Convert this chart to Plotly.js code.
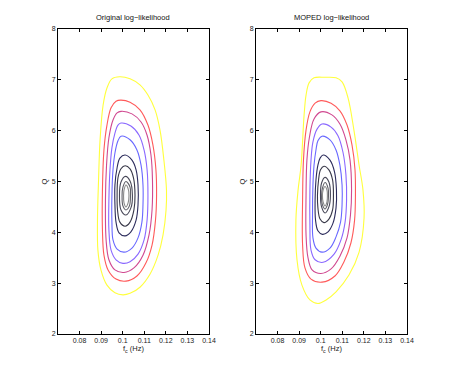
<!DOCTYPE html>
<html>
<head>
<meta charset="utf-8">
<script src="https://cdn.plot.ly/plotly-3.0.1.min.js"></script>
<style>
  body { margin: 0; background: #fff; }
  #chart { width: 450px; height: 377px; }
</style>
</head>
<body>
<div id="chart"></div>
<script>
// contour rings, outermost first (f_c in Hz, Q)
const origF = [
    [0.0986,0.1034,0.1080,0.1117,0.1150,0.1173,0.1191,0.1203,0.1201,0.1187,0.1164,0.1127,0.1080,0.1034,0.1001,0.0964,0.0927,0.0899,0.0885,0.0883,0.0888,0.0895,0.0909,0.0927,0.0950],
    [0.0992,0.1034,0.1080,0.1117,0.1140,0.1154,0.1157,0.1152,0.1136,0.1108,0.1066,0.1015,0.0969,0.0932,0.0913,0.0906,0.0906,0.0913,0.0927,0.0946,0.0969],
    [0.0992,0.1043,0.1085,0.1113,0.1131,0.1138,0.1136,0.1122,0.1094,0.1052,0.1006,0.0964,0.0936,0.0923,0.0920,0.0925,0.0936,0.0955,0.0974],
    [0.0992,0.1038,0.1076,0.1099,0.1113,0.1117,0.1113,0.1099,0.1071,0.1034,0.1001,0.0969,0.0946,0.0936,0.0936,0.0941,0.0950,0.0964,0.0978],
    [0.0992,0.1034,0.1066,0.1085,0.1094,0.1094,0.1089,0.1071,0.1043,0.1006,0.0974,0.0955,0.0950,0.0950,0.0955,0.0964,0.0978],
    [0.1011,0.1043,0.1062,0.1071,0.1071,0.1062,0.1038,0.1011,0.0983,0.0969,0.0964,0.0964,0.0974,0.0987],
    [0.1011,0.1034,0.1050,0.1057,0.1052,0.1034,0.1011,0.0987,0.0976,0.0974,0.0978,0.0992],
    [0.1013,0.1034,0.1045,0.1038,0.1015,0.0992,0.0985,0.0992],
    [0.1015,0.1034,0.1036,0.1031,0.1015,0.1001,0.0997,0.1001],
    [0.1015,0.1027,0.1029,0.1025,0.1015,0.1006,0.1004,0.1006]
];
const origQ = [
    [7.06,7.02,6.90,6.70,6.41,6.01,5.42,4.83,4.44,3.95,3.55,3.18,2.92,2.80,2.77,2.81,2.96,3.26,3.65,4.24,5.03,5.82,6.50,6.84,7.02],
    [6.60,6.56,6.41,6.11,5.72,5.23,4.73,4.24,3.75,3.40,3.14,3.04,3.08,3.26,3.55,4.05,4.83,5.62,6.11,6.45,6.58],
    [6.38,6.33,6.17,5.91,5.52,5.03,4.44,3.95,3.55,3.30,3.21,3.26,3.46,3.85,4.64,5.32,5.86,6.21,6.35],
    [6.15,6.09,5.91,5.62,5.23,4.73,4.24,3.85,3.57,3.42,3.39,3.46,3.65,4.05,4.64,5.23,5.66,5.95,6.11],
    [5.89,5.82,5.62,5.32,4.93,4.54,4.20,3.89,3.69,3.61,3.67,3.85,4.20,4.73,5.23,5.56,5.80],
    [5.52,5.42,5.23,4.93,4.54,4.24,4.01,3.93,3.99,4.20,4.54,4.93,5.27,5.46],
    [5.31,5.25,5.07,4.73,4.44,4.20,4.12,4.20,4.44,4.73,5.07,5.25],
    [5.10,5.01,4.73,4.48,4.34,4.44,4.73,4.99],
    [5.00,4.89,4.72,4.52,4.44,4.52,4.72,4.89],
    [4.93,4.83,4.72,4.58,4.50,4.58,4.72,4.83]
];
const mopedF = [
    [0.1020,0.1071,0.1099,0.1127,0.1154,0.1178,0.1196,0.1201,0.1178,0.1131,0.1071,0.1025,0.0987,0.0950,0.0913,0.0890,0.0885,0.0895,0.0909,0.0923,0.0932,0.0946,0.0969],
    [0.1001,0.1048,0.1089,0.1122,0.1145,0.1159,0.1161,0.1157,0.1140,0.1108,0.1066,0.1006,0.0955,0.0927,0.0916,0.0916,0.0920,0.0932,0.0950,0.0974],
    [0.1001,0.1052,0.1089,0.1117,0.1136,0.1143,0.1138,0.1122,0.1089,0.1048,0.1001,0.0960,0.0941,0.0932,0.0932,0.0936,0.0948,0.0969],
    [0.1006,0.1048,0.1080,0.1103,0.1117,0.1120,0.1113,0.1094,0.1062,0.1011,0.0974,0.0955,0.0950,0.0950,0.0955,0.0964,0.0983],
    [0.1006,0.1043,0.1071,0.1089,0.1099,0.1099,0.1092,0.1071,0.1043,0.1006,0.0978,0.0964,0.0962,0.0964,0.0969,0.0978,0.0987],
    [0.1011,0.1043,0.1064,0.1073,0.1071,0.1057,0.1034,0.1008,0.0987,0.0976,0.0974,0.0978,0.0987,0.0997],
    [0.1015,0.1038,0.1055,0.1059,0.1055,0.1038,0.1015,0.0997,0.0987,0.0985,0.0990,0.0999],
    [0.1020,0.1038,0.1045,0.1038,0.1020,0.1004,0.0999,0.1004],
    [0.1020,0.1034,0.1036,0.1031,0.1020,0.1008,0.1004,0.1008],
    [0.1020,0.1029,0.1031,0.1029,0.1020,0.1011,0.1008,0.1011]
];
const mopedQ = [
    [7.05,7.04,6.96,6.64,6.01,5.32,4.83,4.28,3.61,3.16,2.83,2.67,2.60,2.67,2.96,3.46,4.24,4.83,5.32,6.31,6.70,6.94,7.04],
    [6.59,6.54,6.39,6.11,5.72,5.23,4.73,4.24,3.79,3.42,3.14,3.02,3.08,3.30,3.75,4.64,5.42,6.01,6.37,6.54],
    [6.37,6.31,6.13,5.82,5.42,4.83,4.34,3.89,3.53,3.28,3.19,3.26,3.50,3.95,4.73,5.42,5.88,6.23],
    [6.13,6.07,5.90,5.58,5.13,4.64,4.20,3.85,3.57,3.41,3.46,3.65,4.14,4.83,5.42,5.78,6.03],
    [5.89,5.82,5.62,5.32,4.93,4.54,4.20,3.91,3.69,3.61,3.69,3.89,4.34,4.93,5.32,5.62,5.80],
    [5.52,5.42,5.19,4.83,4.48,4.18,4.01,3.96,4.03,4.24,4.64,5.03,5.32,5.46],
    [5.30,5.23,5.03,4.73,4.44,4.26,4.19,4.26,4.48,4.73,5.03,5.23],
    [5.08,4.99,4.73,4.50,4.38,4.50,4.73,4.97],
    [4.98,4.87,4.72,4.54,4.46,4.54,4.72,4.87],
    [4.90,4.83,4.72,4.60,4.52,4.60,4.72,4.83]
];
const levelColors = ['#ffff3c', '#ff5a5a', '#d04890', '#8a68ff', '#6868ff',
                     '#2c2c5c', '#383848', '#484858', '#606068', '#8a8a8a'];

const xTickVals = [0.08, 0.09, 0.10, 0.11, 0.12, 0.13, 0.14];
const xTickText = ['0.08', '0.09', '0.1', '0.11', '0.12', '0.13', '0.14'];
const yTickVals = [2, 3, 4, 5, 6, 7, 8];
const panelTitles = ['Original log\u2212likelihood', 'MOPED log\u2212likelihood'];

function rings(fs, qs, xa, ya) {
    return fs.map((f, i) => ({
        x: f.concat([f[0]]),
        y: qs[i].concat([qs[i][0]]),
        xaxis: xa,
        yaxis: ya,
        type: 'scatter',
        mode: 'lines',
        line: { color: levelColors[i], width: 1.1, shape: 'spline', smoothing: 1 },
        hoverinfo: 'skip'
    }));
}

const traces = rings(origF, origQ, 'x', 'y').concat(rings(mopedF, mopedQ, 'x2', 'y2'));

const font = { family: 'Liberation Sans, Arial, sans-serif', size: 7, color: '#222' };

function xAxis(domain, anchor) {
    return {
        domain: domain, anchor: anchor, range: [0.07, 0.14],
        tickvals: xTickVals, ticktext: xTickText,
        ticks: 'inside', ticklen: 3, tickcolor: '#000', mirror: 'ticks',
        showline: true, linecolor: '#000', linewidth: 1, showgrid: false, zeroline: false,
        tickfont: font,
        title: { text: 'f<sub>c</sub> (Hz)', font: { family: font.family, size: 7.5, color: '#222' }, standoff: 2 }
    };
}
function yAxis(domain, anchor) {
    return {
        domain: domain, anchor: anchor, range: [2, 8],
        tickvals: yTickVals,
        ticks: 'inside', ticklen: 3, tickcolor: '#000', mirror: 'ticks',
        showline: true, linecolor: '#000', linewidth: 1, showgrid: false, zeroline: false,
        tickfont: font,
        title: { text: 'Q', font: { family: font.family, size: 7.5, color: '#222' }, standoff: 3 }
    };
}

const layout = {
    width: 450,
    height: 377,
    margin: { l: 0, r: 0, t: 0, b: 0 },
    paper_bgcolor: '#fff',
    plot_bgcolor: '#fff',
    showlegend: false,
    xaxis: xAxis([0.1289, 0.4644], 'y'),
    yaxis: yAxis([0.1141, 0.9231], 'x'),
    xaxis2: xAxis([0.5689, 0.9044], 'y2'),
    yaxis2: yAxis([0.1141, 0.9231], 'x2'),
    annotations: [
        { text: panelTitles[0], xref: 'x domain', yref: 'y domain', x: 0.5, y: 1, yshift: 5,
          xanchor: 'center', yanchor: 'bottom', showarrow: false,
          font: { family: font.family, size: 7.5, color: '#111' } },
        { text: panelTitles[1], xref: 'x2 domain', yref: 'y2 domain', x: 0.5, y: 1, yshift: 5,
          xanchor: 'center', yanchor: 'bottom', showarrow: false,
          font: { family: font.family, size: 7.5, color: '#111' } }
    ]
};

Plotly.newPlot('chart', traces, layout, { displayModeBar: false, staticPlot: true });
</script>
</body>
</html>
